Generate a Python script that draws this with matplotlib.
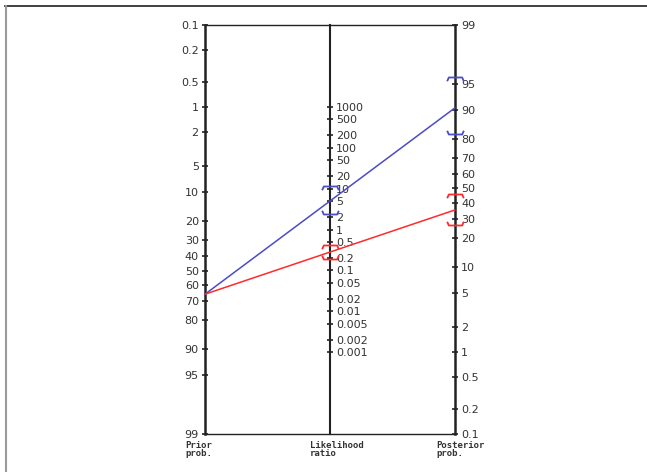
import matplotlib
matplotlib.use("Agg")
import matplotlib.pyplot as plt
from matplotlib.lines import Line2D
from matplotlib.path import Path
from matplotlib.patches import ConnectionPatch
from matplotlib.ticker import FixedLocator, NullLocator

OUT_PATH = "out.png"

# tick values (percent for the probability axes)
prob_ticks = [0.1, 0.2, 0.5, 1, 2, 5, 10, 20, 30, 40, 50, 60, 70, 80, 90, 95, 99]
prob_labels = ["0.1", "0.2", "0.5", "1", "2", "5", "10", "20", "30", "40",
               "50", "60", "70", "80", "90", "95", "99"]
lr_ticks = [0.001, 0.002, 0.005, 0.01, 0.02, 0.05, 0.1, 0.2, 0.5, 1, 2, 5,
            10, 20, 50, 100, 200, 500, 1000]
lr_labels = ["0.001", "0.002", "0.005", "0.01", "0.02", "0.05", "0.1", "0.2",
             "0.5", "1", "2", "5", "10", "20", "50", "100", "200", "500", "1000"]

prior = 66.0
post_pos = 90.6
post_neg = 35.3
lr_ci_pos = [2.4, 11.5]
lr_ci_neg = [0.19, 0.42]
post_ci_pos = [82.0, 95.8]
post_ci_neg = [26.5, 46.0]

BLUE = "#4c4cc4"
RED = "#ff2a2a"
AXC = "#222222"
TXT = "#333333"

# bracket markers: cap opening down (upper limit) / up (lower limit)
CAP_DOWN = Path([(-1, -0.45), (-0.8, 0), (0.8, 0), (1, -0.45)])
CAP_UP = Path([(-1, 0.45), (-0.8, 0), (0.8, 0), (1, 0.45)])

P_LO, P_HI = 0.001, 0.99
LR_SPAN = (P_HI / (1 - P_HI)) / (P_LO / (1 - P_LO))


def style_axis(a, side):
    a.tick_params(axis="y", which="major", direction="inout", length=5,
                  width=1.2, color=AXC, labelsize=8, labelcolor=TXT, pad=2)
    a.yaxis.set_minor_locator(NullLocator())
    a.yaxis.set_ticks_position(side)
    a.yaxis.set_label_position(side)


def bracket(a, x, lo, hi, col):
    for val, mk in [(hi, CAP_DOWN), (lo, CAP_UP)]:
        a.plot([x], [val], marker=mk, markersize=12, color=col,
               linestyle="none", markeredgewidth=1.3, fillstyle="none",
               clip_on=False, zorder=6)


def main():
    fig = plt.figure(figsize=(6.47, 4.72), dpi=100)
    ax = fig.add_axes([205 / 647, 1 - 434 / 472, 250 / 647, 409 / 472])

    # prior axis (left)
    ax.set_xlim(0, 1)
    ax.set_yscale("logit")
    ax.set_ylim(P_HI, P_LO)
    ax.yaxis.set_major_locator(FixedLocator([p / 100 for p in prob_ticks]))
    ax.set_yticklabels(prob_labels)
    style_axis(ax, "left")
    ax.set_xticks([])
    for s in ["top", "bottom"]:
        ax.spines[s].set_linewidth(1.0)
        ax.spines[s].set_color(AXC)
    ax.spines["left"].set_linewidth(1.8)
    ax.spines["left"].set_color(AXC)
    ax.spines["right"].set_visible(False)

    # posterior axis (right)
    axr = ax.twinx()
    axr.set_yscale("logit")
    axr.set_ylim(P_LO, P_HI)
    axr.yaxis.set_major_locator(FixedLocator([p / 100 for p in prob_ticks]))
    axr.set_yticklabels(prob_labels)
    style_axis(axr, "right")
    for s in ["top", "bottom", "left"]:
        axr.spines[s].set_visible(False)
    axr.spines["right"].set_linewidth(1.8)
    axr.spines["right"].set_color(AXC)

    # likelihood ratio axis (middle)
    axm = ax.twinx()
    axm.set_yscale("log")
    axm.set_ylim(1 / LR_SPAN, LR_SPAN)
    axm.yaxis.set_major_locator(FixedLocator(lr_ticks))
    axm.set_yticklabels(lr_labels)
    style_axis(axm, "right")
    axm.spines["right"].set_position(("axes", 0.5))
    for s in ["top", "bottom", "left"]:
        axm.spines[s].set_visible(False)
    axm.spines["right"].set_linewidth(1.5)
    axm.spines["right"].set_color(AXC)

    # connecting lines prior -> posterior
    for post, col in [(post_pos, BLUE), (post_neg, RED)]:
        con = ConnectionPatch(xyA=(0, prior / 100), coordsA=ax.transData,
                              xyB=(1, post / 100), coordsB=axr.transData,
                              color=col, linewidth=1.1, zorder=5)
        fig.add_artist(con)

    # confidence brackets
    bracket(axm, 0.5, lr_ci_pos[0], lr_ci_pos[1], BLUE)
    bracket(axm, 0.5, lr_ci_neg[0], lr_ci_neg[1], RED)
    bracket(axr, 1, post_ci_pos[0] / 100, post_ci_pos[1] / 100, BLUE)
    bracket(axr, 1, post_ci_neg[0] / 100, post_ci_neg[1] / 100, RED)

    # axis captions
    cap = dict(fontsize=6.5, family="DejaVu Sans Mono", fontweight="bold",
               color=TXT, va="top", ha="left", linespacing=0.85)
    fig.text(185 / 647, 1 - 441 / 472, "Prior\nprob.", **cap)
    fig.text(310 / 647, 1 - 441 / 472, "Likelihood\nratio", **cap)
    fig.text(436 / 647, 1 - 441 / 472, "Posterior\nprob.", **cap)

    # outer frame (top and left only)
    fig.add_artist(Line2D([5 / 647, 1], [1 - 6 / 472, 1 - 6 / 472],
                          transform=fig.transFigure, color="#333333", linewidth=1.3))
    fig.add_artist(Line2D([5.5 / 647, 5.5 / 647], [0, 1 - 6 / 472],
                          transform=fig.transFigure, color="#9a9a9a", linewidth=1.5))

    fig.savefig(OUT_PATH, dpi=100)
    plt.close(fig)


if __name__ == "__main__":
    main()
